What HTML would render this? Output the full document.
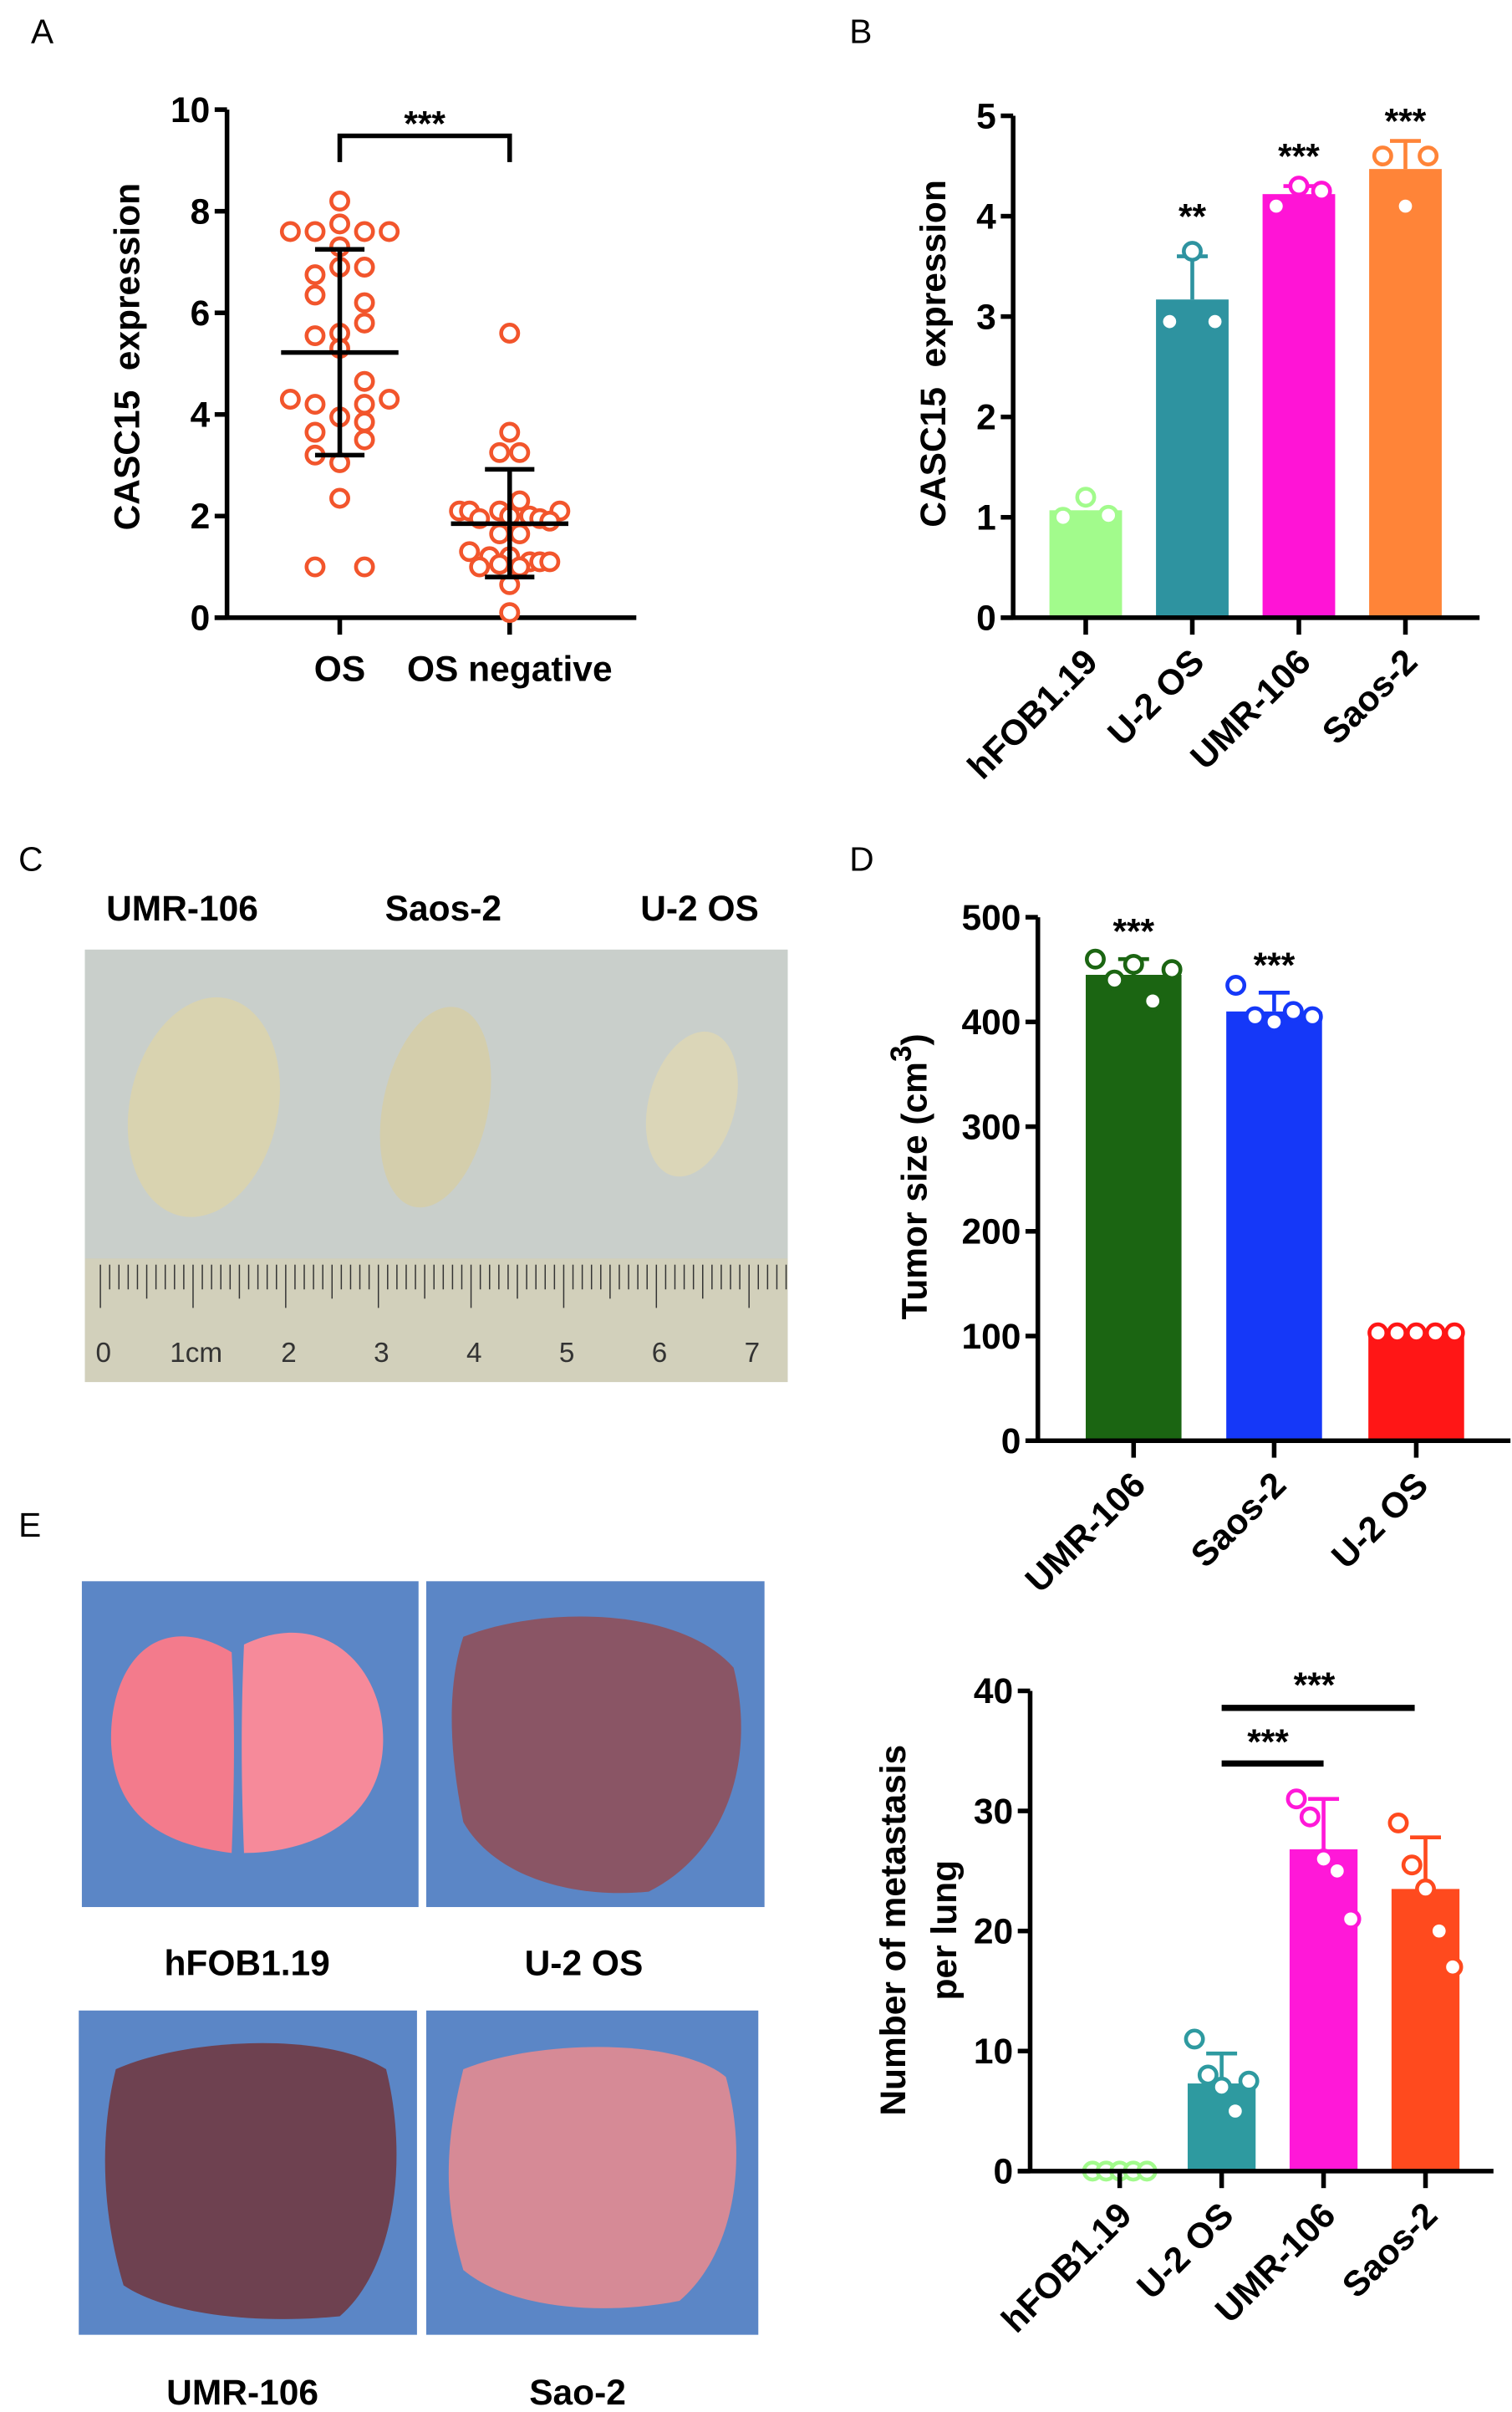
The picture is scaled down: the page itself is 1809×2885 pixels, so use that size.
<!DOCTYPE html>
<html><head><meta charset="utf-8"><style>
html,body{margin:0;padding:0;background:#fff}
svg{display:block}
text{font-family:"Liberation Sans",Arial,sans-serif}
.t{font-weight:bold;font-size:23px}
.ax{stroke:#000;stroke-width:3;fill:none}
.lbl{font-size:22px}
</style></head><body>
<svg id="fig" width="1809" height="2885" viewBox="0 0 979 1562" preserveAspectRatio="none" xmlns="http://www.w3.org/2000/svg">
<text x="20" y="28" class="lbl">A</text>
<text x="550" y="28" class="lbl">B</text>
<text x="12" y="564" class="lbl">C</text>
<text x="550" y="564" class="lbl">D</text>
<text x="12" y="995" class="lbl">E</text>
<g id="gA"></g>
<g id="gB"></g>
<g id="gC">
 <rect x="55" y="615" width="455" height="280" fill="#c2c8c2"/>
 <rect x="55" y="615" width="455" height="200" fill="#c9cfcb"/>
 <rect x="55" y="815" width="455" height="80" fill="#d2d0bb"/>
 <ellipse cx="132" cy="717" rx="48" ry="72" fill="#d9d3b0" transform="rotate(12 132 717)"/>
 <ellipse cx="282" cy="717" rx="34" ry="66" fill="#d4ceac" transform="rotate(12 282 717)"/>
 <ellipse cx="448" cy="715" rx="28" ry="48" fill="#dbd6b8" transform="rotate(15 448 715)"/>
 <g id="ruler"></g>
 <text x="118" y="596" class="t" font-size="24" text-anchor="middle">UMR-106</text>
 <text x="287" y="596" class="t" font-size="24" text-anchor="middle">Saos-2</text>
 <text x="453" y="596" class="t" font-size="24" text-anchor="middle">U-2 OS</text>
</g>
<g id="gD"></g>
<g id="gEp">
 <rect x="53" y="1024" width="218" height="211" fill="#5b86c6"/>
 <path d="M150 1070 C100 1040 70 1080 72 1130 C75 1180 110 1195 150 1200 C152 1150 152 1110 150 1070Z" fill="#f37b8c"/>
 <path d="M158 1065 C210 1040 250 1080 248 1130 C246 1180 200 1200 158 1200 C156 1150 156 1110 158 1065Z" fill="#f68a9a"/>
 <rect x="276" y="1024" width="219" height="211" fill="#5b86c6"/>
 <path d="M300 1060 C350 1040 440 1040 475 1080 C490 1140 470 1200 420 1225 C370 1230 320 1215 300 1180 C290 1130 290 1090 300 1060Z" fill="#8a5565"/>
 <rect x="51" y="1302" width="219" height="210" fill="#5b86c6"/>
 <path d="M75 1340 C120 1320 210 1315 250 1340 C265 1400 255 1470 220 1500 C170 1505 110 1500 80 1480 C65 1430 65 1380 75 1340Z" fill="#6e4150"/>
 <rect x="276" y="1302" width="215" height="210" fill="#5b86c6"/>
 <path d="M300 1340 C350 1320 440 1320 470 1345 C485 1400 475 1460 440 1490 C390 1500 330 1495 300 1470 C285 1420 290 1380 300 1340Z" fill="#d68a96"/>
 <text x="160" y="1279" class="t" font-size="21" text-anchor="middle">hFOB1.19</text>
 <text x="378" y="1279" class="t" font-size="21" text-anchor="middle">U-2 OS</text>
 <text x="157" y="1557" class="t" font-size="21" text-anchor="middle">UMR-106</text>
 <text x="374" y="1557" class="t" font-size="21" text-anchor="middle">Sao-2</text>
</g>
<g id="gE"></g>
</svg>
<script>
const NS="http://www.w3.org/2000/svg";
function mk(p,tag,attrs,txt){const e=document.createElementNS(NS,tag);for(const k in attrs)e.setAttribute(k,attrs[k]);if(txt!==undefined)e.textContent=txt;p.appendChild(e);return e;}

// ---- Panel A data ----
const aGroups=["OS","OS negative"];
const aOSvals=[8.2,7.6,7.6,7.75,7.6,7.6,7.3,6.9,6.9,6.75,6.35,6.2,5.8,5.55,5.6,5.3,4.65,4.3,4.2,4.2,4.3,3.95,3.85,3.65,3.5,3.2,3.05,2.35,1.0,1.0];
const aOSjit=[0,-2,-1,0,1,2,0,0,1,-1,-1,1,1,-1,0,0,1,-2,-1,1,2,0,1,-1,1,-1,0,0,-1,1];
const aNegvals=[5.6,3.65,3.25,3.25,2.3,2.1,2.1,2.1,2.1,1.95,2.0,2.0,1.95,1.9,1.65,1.65,1.3,1.2,1.2,1.1,1.1,1.1,1.0,1.05,1.0,0.65,0.1];
const aNegjit=[0,0,-1,1,1,-5,-4,-1,5,-3,0,2,3,4,-1,1,-4,-2,0,2,3,4,-3,-1,1,0,0];
const aMeans=[5.22,1.85];
const aSDhi=[7.25,2.92];
const aSDlo=[3.2,0.8];
const aTicks=[0,2,4,6,8,10];

// ---- Panel B data ----
const bCats=["hFOB1.19","U-2 OS","UMR-106","Saos-2"];
const bMeans=[1.07,3.17,4.22,4.47];
const bSD=[0.1,3.6,4.3,4.75];
const bPts=[[1.0,1.2,1.02],[2.95,3.65,2.95],[4.1,4.3,4.25],[4.6,4.1,4.6]];
const bSig=["","**","***","***"];
const bSigY=[0,4.0,4.6,4.95];
const bTicks=[0,1,2,3,4,5];
const bColors=["#a2fb8c","#2e93a0","#ff14d6","#ff8438"];

// ---- Panel D data ----
const dCats=["UMR-106","Saos-2","U-2 OS"];
const dMeans=[445,410,103];
const dSD=[460,428,105];
const dPts=[[460,440,455,420,450],[435,405,400,410,405],[103,103,103,103,103]];
const dSig=["***","***",""];
const dTicks=[0,100,200,300,400,500];
const dColors=["#1b6512","#1538f8","#ff1616"];

// ---- Panel E data ----
const eCats=["hFOB1.19","U-2 OS","UMR-106","Saos-2"];
const eMeans=[0.3,7.3,26.8,23.5];
const eSD=[0.5,9.8,31,27.8];
const ePts=[[0,0,0,0,0],[11,8,7,5,7.5],[31,29.5,26,25,21],[29,25.5,23.5,20,17]];
const eTicks=[0,10,20,30,40];
const eColors=["#a2fb8c","#2e9aa0","#ff18d8","#ff4a1e"];

function axisY(g,x,y0,y1,vmin,vmax,ticks){
  const sc=v=>y0-(v-vmin)/(vmax-vmin)*(y0-y1);
  mk(g,"line",{x1:x,y1:y0,x2:x,y2:sc(vmax),class:"ax",});
  ticks.forEach(t=>{mk(g,"line",{x1:x-8,y1:sc(t),x2:x,y2:sc(t),class:"ax"});
    const tx=mk(g,"text",{x:x-11,y:sc(t)+8,class:"t","text-anchor":"end"},String(t));
    
    });
  return sc;
}
function circ(g,cx,cy,col,fill){const c=mk(g,"circle",{cx:cx,cy:cy,r:5.5,fill:fill,stroke:col,"stroke-width":2.5});
  
  }

// Panel A
(function(){const g=document.getElementById("gA");
 const sy=axisY(g,147,400,71,0,10,aTicks);
 mk(g,"line",{x1:139,y1:400,x2:412,y2:400,class:"ax",});
 const xs=[220,330];
 xs.forEach((x,i)=>{mk(g,"line",{x1:x,y1:400,x2:x,y2:411,class:"ax"});});
 mk(g,"text",{x:220,y:441,class:"t","font-size":"25","text-anchor":"middle",},aGroups[0]);
 mk(g,"text",{x:330,y:441,class:"t","font-size":"25","text-anchor":"middle",},aGroups[1]);
 mk(g,"text",{x:0,y:0,class:"t","text-anchor":"middle",transform:"translate(90,231) rotate(-90)","font-size":"29",},"CASC15\u00a0\u00a0expression");
 aOSvals.forEach((v,i)=>circ(g,xs[0]+aOSjit[i]*16,sy(v),"#f2552c","#fff"));
 aNegvals.forEach((v,i)=>circ(g,xs[1]+aNegjit[i]*6.5,sy(v),"#f2552c","#fff"));
 xs.forEach((x,i)=>{
  mk(g,"line",{x1:x-38,y1:sy(aMeans[i]),x2:x+38,y2:sy(aMeans[i]),class:"ax",});
  mk(g,"line",{x1:x,y1:sy(aSDhi[i]),x2:x,y2:sy(aSDlo[i]),class:"ax"});
  mk(g,"line",{x1:x-16,y1:sy(aSDhi[i]),x2:x+16,y2:sy(aSDhi[i]),class:"ax"});
  mk(g,"line",{x1:x-16,y1:sy(aSDlo[i]),x2:x+16,y2:sy(aSDlo[i]),class:"ax"});
 });
 mk(g,"path",{d:"M220 105 V88 H330 V105",class:"ax",});
 mk(g,"text",{x:275,y:88,class:"t","font-size":"24","text-anchor":"middle",},"***");
})();

function barChart(gid,axX,y0,y1,vmax,ticks,cats,means,sd,pts,colors,xs,bw,xEnd,jit){
 const g=document.getElementById(gid);
 const sy=axisY(g,axX,y0,y1,0,vmax,ticks);
 cats.forEach((c,i)=>{const x=xs[i];
  const b=mk(g,"rect",{x:x-bw/2,y:sy(means[i]),width:bw,height:y0-sy(means[i]),fill:colors[i]});
  
  
  mk(g,"line",{x1:x,y1:sy(means[i]),x2:x,y2:sy(sd[i]),stroke:colors[i],"stroke-width":2.5});
  mk(g,"line",{x1:x-10,y1:sy(sd[i]),x2:x+10,y2:sy(sd[i]),stroke:colors[i],"stroke-width":2.5});
  pts[i].forEach((v,j)=>circ(g,x+jit[j]*(bw/(jit.length>3?5:3.2)),sy(v),colors[i],"#fff"));
  mk(g,"line",{x1:x,y1:y0,x2:x,y2:y0+11,class:"ax"});
  const t=mk(g,"text",{x:0,y:0,class:"t","font-size":"24","text-anchor":"end",transform:`translate(${x+9},${y0+30}) rotate(-45)`},c);
  
  
 });
 mk(g,"line",{x1:axX-8,y1:y0,x2:xEnd,y2:y0,class:"ax",});
 return {g,sy};
}

// Panel B
(function(){const xs=[703,772,841,910];
 const r=barChart("gB",656,400,75,5,bTicks,bCats,bMeans,bSD,bPts,bColors,xs,47,958,[-1,0,1]);
 const {g,sy}=r;
 bSig.forEach((s,i)=>{if(s)mk(g,"text",{x:xs[i],y:sy(bSigY[i])+8,class:"t","font-size":"24","text-anchor":"middle",},s);});
 mk(g,"text",{x:0,y:0,class:"t","text-anchor":"middle","font-size":"29",transform:"translate(612,229) rotate(-90)",},"CASC15\u00a0\u00a0expression");
})();

// Panel D
(function(){const xs=[734,825,917];
 const r=barChart("gD",672,933,594,500,dTicks,dCats,dMeans,dSD,dPts,dColors,xs,62,978,[-2,-1,0,1,2]);
 const {g,sy}=r;
 dSig.forEach((s,i)=>{if(s)mk(g,"text",{x:xs[i],y:sy(dSD[i])-10,class:"t","font-size":"24","text-anchor":"middle",},s);});
 const t=mk(g,"text",{x:0,y:0,class:"t","text-anchor":"middle","font-size":"31",transform:"translate(600,762) rotate(-90)",},"Tumor size (cm");
 mk(t,"tspan",{dy:"-10","font-size":"19"},"3");mk(t,"tspan",{dy:"10"},")");
})();

// Panel E
(function(){const xs=[725,791,857,923];
 const r=barChart("gE",667,1406,1095,40,eTicks,eCats,eMeans,eSD,ePts,eColors,xs,44,967,[-1,-0.5,0,0.5,1].map(v=>v*2));
 const {g,sy}=r;
 mk(g,"line",{x1:791,y1:1106,x2:916,y2:1106,stroke:"#000","stroke-width":4,});
 mk(g,"text",{x:851,y:1099,class:"t","font-size":"24","text-anchor":"middle"},"***");
 mk(g,"line",{x1:791,y1:1142,x2:857,y2:1142,stroke:"#000","stroke-width":4,});
 mk(g,"text",{x:821,y:1136,class:"t","font-size":"24","text-anchor":"middle"},"***");
 mk(g,"text",{x:0,y:0,class:"t","text-anchor":"middle","font-size":"28",transform:"translate(586,1250) rotate(-90)",},"Number of metastasis");
 mk(g,"text",{x:0,y:0,class:"t","text-anchor":"middle","font-size":"28",transform:"translate(619,1250) rotate(-90)"},"per lung");
})();

// Ruler
(function(){const g=document.getElementById("ruler");
 for(let i=0;i<=74;i++){const x=65+i*6;const h=i%10===0?28:(i%5===0?22:16);
  mk(g,"line",{x1:x,y1:819,x2:x,y2:819+h,stroke:"#333","stroke-width":0.8});}
 const nums=["0","1cm","2","3","4","5","6","7"];
 nums.forEach((n,i)=>{const t=mk(g,"text",{x:67+i*60,y:882,"font-size":"18","text-anchor":"middle",fill:"#333"},n);
  
  });
})();
</script>
</body></html>
